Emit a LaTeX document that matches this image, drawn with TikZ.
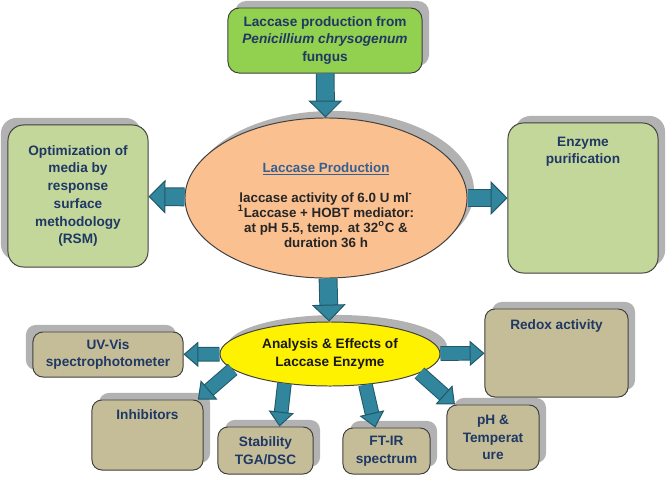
\documentclass[tikz,border=0pt]{standalone}
\usepackage{fontspec}
\setmainfont{Liberation Sans}
\usetikzlibrary{arrows.meta,positioning,shapes.geometric,shadows}

\definecolor{leafgreen}{HTML}{92D050}
\definecolor{olivebox}{HTML}{C4D79B}
\definecolor{tanbox}{HTML}{C4BD97}
\definecolor{peach}{HTML}{FAC090}
\definecolor{navytext}{HTML}{1F3864}
\definecolor{headblue}{HTML}{376092}
\definecolor{tealfill}{HTML}{31859C}
\definecolor{tealedge}{HTML}{215968}
\definecolor{edgegray}{HTML}{404040}

\begin{document}
\begin{tikzpicture}[x=0.025cm, y=-0.025cm, font=\bfseries\fontsize{9.7}{12.6}\selectfont, shadowr/.style={drop shadow={shadow xshift=5pt, shadow yshift=5pt, fill=black!30, opacity=1}}, shadowl/.style={drop shadow={shadow xshift=-5pt, shadow yshift=5pt, fill=black!30, opacity=1}}, box/.style={rectangle, rounded corners=8pt, draw=edgegray, line width=0.7pt, text=navytext, align=center, inner sep=2pt}, topbox/.style={box, fill=leafgreen, minimum width=4.85cm, minimum height=1.625cm}, sidebox/.style={box, fill=olivebox, rounded corners=11pt}, testbox/.style={box, fill=tanbox, rounded corners=7pt}, boxtext/.style={text=navytext, align=center, inner sep=0pt}, oval/.style={ellipse, draw=edgegray, line width=0.7pt, inner sep=0pt}, bigarrow/.style={draw=tealfill, line width=12pt, -{Triangle[length=12pt, width=24pt, line width=0.7pt, color=tealedge, fill=tealfill]}, preaction={draw=tealedge, line width=13.4pt, -, shorten >=9pt}}, smallarrow/.style={draw=tealfill, line width=9pt, -{Triangle[length=10.5pt, width=18pt, line width=0.7pt, color=tealedge, fill=tealfill]}, preaction={draw=tealedge, line width=10.4pt, -, shorten >=7pt}}]
\useasboundingbox (0,0) rectangle (666,481);
% production stage
\node[topbox, shadowr] (source) at (325,40.5) {Laccase production from\\\textit{Penicillium chrysogenum}\\fungus};
\node[oval, shadowr, fill=peach, minimum width=7.05cm, minimum height=4cm] (prod) at (326,198) {};
\node[align=center, inner sep=0pt, text=black!85, font=\bfseries\fontsize{9.5}{10.7}\selectfont] (prodtext) at (326,205) {\textcolor{headblue}{\underline{Laccase Production}}\\[10.7pt]laccase activity of 6.0 U ml\textsuperscript{-}\\\textsuperscript{1}Laccase + HOBT mediator:\\at pH 5.5, temp. at 32\textsuperscript{o}C \&\\duration 36 h};
\node[sidebox, shadowl, minimum width=3.5cm, minimum height=3.55cm] (rsm) at (78,196) {Optimization of\\media by\\response\\surface\\methodology\\(RSM)};
\node[sidebox, shadowr, minimum width=3.75cm, minimum height=3.75cm] (purif) at (583,198) {};
\node[boxtext, below=10pt of purif.north] (puriftext) {Enzyme\\purification};
% analysis stage
\node[oval, shadowr, fill=yellow, text=black!90, align=center, minimum width=5.5cm, minimum height=1.6cm] (analysis) at (330,354) {Analysis \& Effects of\\Laccase Enzyme};
\node[testbox, shadowl, minimum width=3.75cm, minimum height=1.125cm] (uvvis) at (108,354.5) {UV-Vis\\spectrophotometer};
\node[testbox, shadowr, minimum width=2.775cm, minimum height=1.75cm] (inhib) at (147.5,435) {};
\node[boxtext, below=7pt of inhib.north] (inhibtext) {Inhibitors};
\node[testbox, shadowr, minimum width=2.375cm, minimum height=1.175cm] (stab) at (265.5,450.5) {Stability\\TGA/DSC};
\node[testbox, shadowr, minimum width=2.175cm, minimum height=1.15cm] (ftir) at (386.5,451) {FT-IR\\spectrum};
\node[testbox, shadowr, minimum width=2.3cm, minimum height=1.625cm] (ph) at (493,437.5) {pH \&\\Temperat\\ure};
\node[testbox, shadowr, minimum width=3.575cm, minimum height=2.2cm] (redox) at (556.5,353) {};
\node[boxtext, below=8pt of redox.north] (redoxtext) {Redox activity};
% block arrows
\draw[bigarrow] (source) -- (prod);
\draw[bigarrow] (prod) -- (rsm);
\draw[bigarrow] (prod) -- (purif);
\draw[bigarrow] (prod) -- (analysis);
\draw[smallarrow] (analysis) -- (uvvis);
\draw[smallarrow] (analysis) -- (redox);
\draw[smallarrow] (analysis.189) -- ([xshift=-4pt]inhib.north east);
\draw[smallarrow] (analysis.213) -- ([xshift=10pt]stab.north);
\draw[smallarrow] (analysis.319) -- ([xshift=-8pt]ftir.north);
\draw[smallarrow] (analysis.348) -- ([xshift=6pt]ph.north west);
\end{tikzpicture}
\end{document}
